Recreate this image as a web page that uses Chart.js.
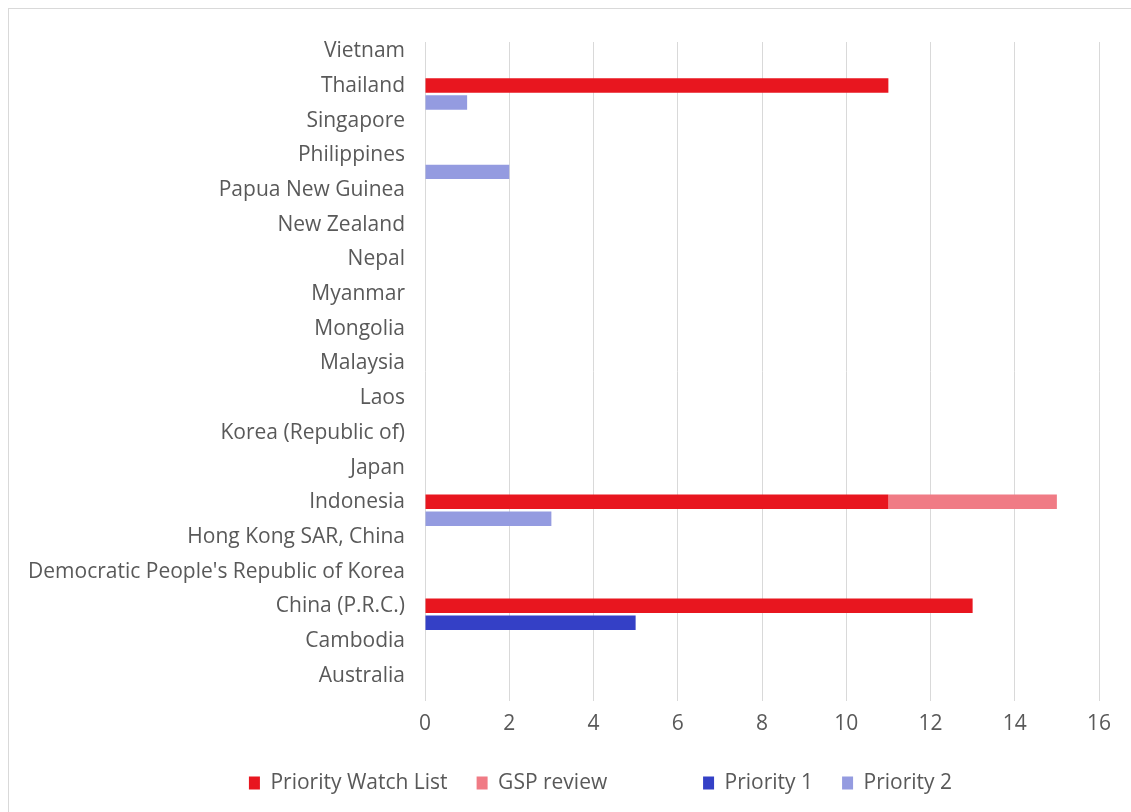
<!DOCTYPE html>
<html>
<head>
<meta charset="utf-8">
<script src="https://cdn.jsdelivr.net/npm/chart.js@4.4.1/dist/chart.umd.min.js"></script>
<style>
  html, body { margin: 0; padding: 0; background: #fff; }
  #wrap { width: 1131px; height: 812px; }
</style>
</head>
<body>
<div id="wrap"><canvas id="chart"></canvas></div>
<script>
const countries = [
  "Vietnam", "Thailand", "Singapore", "Philippines", "Papua New Guinea",
  "New Zealand", "Nepal", "Myanmar", "Mongolia", "Malaysia", "Laos",
  "Korea (Republic of)", "Japan", "Indonesia", "Hong Kong SAR, China",
  "Democratic People's Republic of Korea", "China (P.R.C.)", "Cambodia", "Australia"
];
const priorityWatchList = [0, 11, 0, 0, 0, 0, 0, 0, 0, 0, 0, 0, 0, 11, 0, 0, 13, 0, 0];
const gspReview         = [0, 0, 0, 0, 0, 0, 0, 0, 0, 0, 0, 0, 0, 4, 0, 0, 0, 0, 0];
const priority1         = [0, 0, 0, 0, 0, 0, 0, 0, 0, 0, 0, 0, 0, 0, 0, 0, 5, 0, 0];
const priority2         = [0, 1, 0, 2, 0, 0, 0, 0, 0, 0, 0, 0, 0, 3, 0, 0, 0, 0, 0];
const xTicks = [0, 2, 4, 6, 8, 10, 12, 14, 16];

const textGray = "#595959";
const fontFamily = "'Open Sans', sans-serif";
const fontSize = 21;

// light frame around the whole chart, and nudge the legend row to the right
const framePlugin = {
  id: "frame",
  afterLayout(chart) {
    chart.legend.left += 46;
    chart.legend.right += 46;
  },
  beforeDraw(chart) {
    const ctx = chart.ctx;
    ctx.save();
    ctx.fillStyle = "#fff";
    ctx.fillRect(0, 0, chart.width, chart.height);
    ctx.strokeStyle = "#d9d9d9";
    ctx.lineWidth = 1;
    ctx.strokeRect(8.5, 8.5, chart.width + 10, chart.height + 10);
    ctx.restore();
  }
};

const ctx = document.getElementById("chart").getContext("2d");

new Chart(ctx, {
  type: "bar",
  data: {
    labels: countries,
    datasets: [
      { label: "Priority Watch List", data: priorityWatchList, backgroundColor: "#e8161f", stack: "watch" },
      { label: "GSP review", data: gspReview, backgroundColor: "#f07b85", stack: "watch" },
      { label: "Priority 1", data: priority1, backgroundColor: "#3440c6", stack: "priority" },
      { label: "Priority 2", data: priority2, backgroundColor: "#949be0", stack: "priority" }
    ]
  },
  options: {
    indexAxis: "y",
    responsive: true,
    maintainAspectRatio: false,
    animation: false,
    categoryPercentage: 0.98,
    barPercentage: 0.85,
    layout: {
      padding: { top: 42, right: 32, bottom: 8.5, left: 10 }
    },
    plugins: {
      tooltip: { enabled: false },
      legend: {
        position: "bottom",
        labels: {
          color: textGray,
          font: { family: fontFamily, size: fontSize },
          boxWidth: 11,
          boxHeight: 13,
          padding: 29,
          generateLabels(chart) {
            const items = Chart.defaults.plugins.legend.labels.generateLabels(chart);
            // wider gap between the two groups
            items.splice(2, 0, {
              text: "   ",
              fillStyle: "rgba(0,0,0,0)",
              strokeStyle: "rgba(0,0,0,0)",
              lineWidth: 0,
              hidden: false,
              datasetIndex: -1
            });
            return items;
          }
        },
        onClick() {}
      }
    },
    scales: {
      x: {
        stacked: true,
        min: 0,
        max: 16,
        afterBuildTicks(scale) {
          scale.ticks = xTicks.map(v => ({ value: v }));
        },
        afterFit(scale) {
          scale.height = 42.5;
        },
        grid: { color: "#d9d9d9", drawTicks: false },
        border: { display: false },
        ticks: {
          color: textGray,
          font: { family: fontFamily, size: fontSize },
          padding: 10
        }
      },
      y: {
        stacked: true,
        afterFit(scale) {
          scale.width = 415;
        },
        grid: { display: false, drawTicks: false },
        border: { display: false },
        ticks: {
          color: textGray,
          font: { family: fontFamily, size: fontSize },
          padding: 20,
          labelOffset: -8,
          autoSkip: false
        }
      }
    }
  },
  plugins: [framePlugin]
});
</script>
</body>
</html>
